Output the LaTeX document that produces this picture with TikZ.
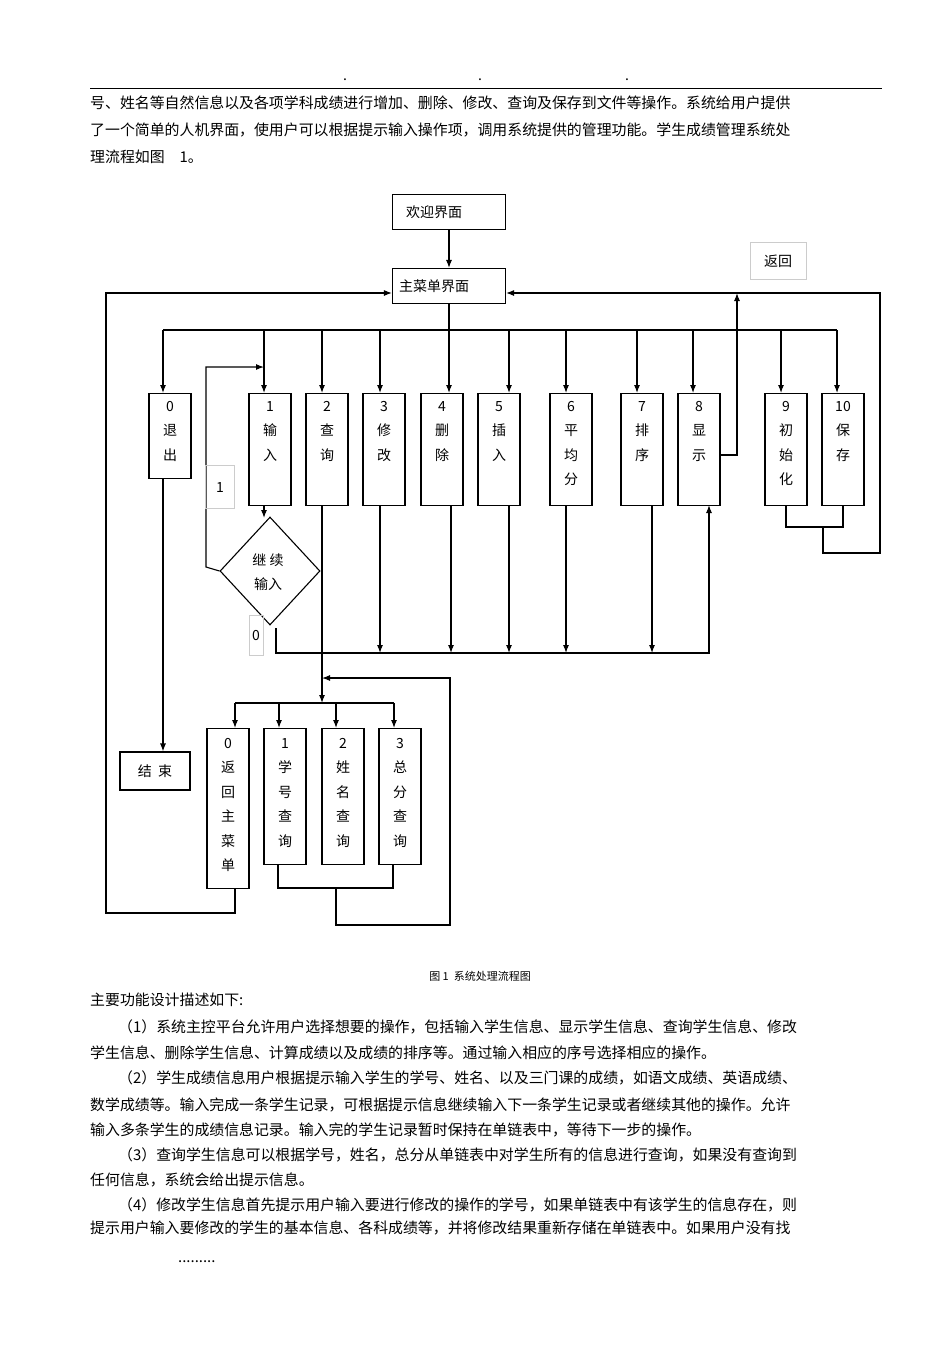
\documentclass[tikz,border=0pt]{standalone}
\usepackage{fontspec}
\setmainfont{Liberation Sans}
\newfontfamily\cjk{Noto Sans CJK SC}
\usetikzlibrary{arrows.meta,shapes.geometric}
\begin{document}
\begin{tikzpicture}[x=1pt,y=-1pt,
  every node/.style={font=\cjk\fontsize{14}{17}\selectfont, inner sep=0pt},
  box/.style={draw, line width=1.1pt, rectangle},
  vbox/.style={draw, line width=1.1pt, rectangle, minimum width=42pt, anchor=north},
  vtxt/.style={anchor=north, align=center, font=\cjk\fontsize{14}{24.5}\selectfont},
  lbl/.style={draw=gray!40, line width=0.5pt, rectangle},
  ln/.style={line width=1.1pt},
  ar/.style={line width=1.1pt, -{Latex[length=8pt,width=6pt]}},
  para/.style={anchor=west, font=\cjk\fontsize{14.9}{17}\selectfont}]
\useasboundingbox (0,0) rectangle (950,1345);
% header
\draw[line width=0.8pt] (90,88) -- (882,88);
\node at (345,80) {.}; \node at (480,80) {.}; \node at (627,80) {.};
\node[para] at (90,103) {号、姓名等自然信息以及各项学科成绩进行增加、删除、修改、查询及保存到文件等操作。系统给用户提供};
\node[para] at (90,130) {了一个简单的人机界面，使用户可以根据提示输入操作项，调用系统提供的管理功能。学生成绩管理系统处};
\node[para] at (90,157) {理流程如图\quad 1。};
% top boxes
\node[box, minimum width=113pt, minimum height=35pt] (welcome) at (449,212) {\hspace*{-30pt}欢迎界面};
\node[box, minimum width=113pt, minimum height=35pt] (main) at (449,286) {\hspace*{-30pt}主菜单界面};
\node[lbl, minimum width=56pt, minimum height=37pt] (fh) at (778,261) {返回};
\draw[ar] (welcome) -- (main);
% main options
\node[vbox, minimum height=85pt] (b0) at (170,393) {};
\node[vtxt] at ([yshift=-8pt]b0.north) {0\\退\\出};
\foreach \n/\x/\t/\h in {1/270/{1\\输\\入}/112, 2/327/{2\\查\\询}/112, 3/384/{3\\修\\改}/112, 4/442/{4\\删\\除}/112, 5/499/{5\\插\\入}/112, 6/571/{6\\平\\均\\分}/112, 7/642/{7\\排\\序}/112, 8/699/{8\\显\\示}/112, 9/786/{9\\初\\始\\化}/112, 10/843/{10\\保\\存}/112}{
  \node[vbox, minimum height=\h pt] (b\n) at (\x,393) {};
  \node[vtxt] at ([yshift=-8pt]b\n.north) {\t};
}
\coordinate (bus) at (449,330);
\draw[ln] (main.south) -- (bus);
\draw[ln] (163,330) -- (837,330);
\draw[ar] (bus) -- (449,393);
\foreach \x in {163,264,322,380,509,566,637,693,781,837}{\draw[ar] (\x,330) -- (\x,393);}
% return from 8
\draw[ar] (b8.east |- 0,455) -- (737,455) -- (737,293);
% 9,10 return
\draw[ln] (786,505) -- (786,527) -- (843,527) -- (843,505);
\draw[ar] (823,527) -- (823,553) -- (880,553) -- (880,293) -- (main.east |- 0,293);
% diamond
\node[diamond, draw, line width=1.1pt, minimum width=100pt, minimum height=108pt, aspect=0.93] (dia) at (270,571) {};
\node[align=center, font=\cjk\fontsize{14}{24}\selectfont] at (268,572) {继\ 续\\输入};
\draw[ar] (264,505) -- (264,518);
\draw[ar] (dia.west) -- (206,567) -- (206,367) -- (264,367);
\node[lbl, minimum width=29pt, minimum height=43pt] (l1) at (220,487) {1};
\node[lbl, minimum width=14pt, minimum height=40pt] (l0) at (256,635) {0};
% bottom bus
\draw[ar] (276,628) -- (276,653) -- (709,653) -- (709,505);
\foreach \x in {380,451,509,566,652}{\draw[ar] (\x,505) -- (\x,653);}
% exit
\node[box, minimum width=70pt, minimum height=38pt] (end) at (155,771) {结\ \ 束};
\draw[ar] (163,478) -- (end.north -| 163,0);
% query branch
\draw[ar] (322,505) -- (322,703);
\draw[ln] (235,703) -- (394,703);
\node[vbox, minimum height=160pt] (s0) at (228,728) {};
\node[vtxt] at ([yshift=-10pt]s0.north) {0\\返\\回\\主\\菜\\单};
\node[vbox, minimum height=136pt] (s1) at (285,728) {};
\node[vtxt] at ([yshift=-10pt]s1.north) {1\\学\\号\\查\\询};
\node[vbox, minimum height=136pt] (s2) at (343,728) {};
\node[vtxt] at ([yshift=-10pt]s2.north) {2\\姓\\名\\查\\询};
\node[vbox, minimum height=136pt] (s3) at (400,728) {};
\node[vtxt] at ([yshift=-10pt]s3.north) {3\\总\\分\\查\\询};
\foreach \x in {235,279,336,394}{\draw[ar] (\x,703) -- (\x,728);}
\draw[ln] (278,864) -- (278,888) -- (393,888) -- (393,864);
\draw[ar] (336,888) -- (336,925) -- (450,925) -- (450,678) -- (322,678);
\draw[ar] (235,888) -- (235,913) -- (106,913) -- (106,293) -- (main.west |- 0,293);
% caption and text
\node[font=\cjk\fontsize{11}{13}\selectfont] at (480,976) {图 1\ \ 系统处理流程图};
\node[para] at (90,1000) {主要功能设计描述如下:};
\node[para] at (118,1027) {（1）系统主控平台允许用户选择想要的操作，包括输入学生信息、显示学生信息、查询学生信息、修改};
\node[para] at (90,1053) {学生信息、删除学生信息、计算成绩以及成绩的排序等。通过输入相应的序号选择相应的操作。};
\node[para] at (118,1078) {（2）学生成绩信息用户根据提示输入学生的学号、姓名、以及三门课的成绩，如语文成绩、英语成绩、};
\node[para] at (90,1105) {数学成绩等。输入完成一条学生记录，可根据提示信息继续输入下一条学生记录或者继续其他的操作。允许};
\node[para] at (90,1130) {输入多条学生的成绩信息记录。输入完的学生记录暂时保持在单链表中，等待下一步的操作。};
\node[para] at (118,1155) {（3）查询学生信息可以根据学号，姓名，总分从单链表中对学生所有的信息进行查询，如果没有查询到};
\node[para] at (90,1180) {任何信息，系统会给出提示信息。};
\node[para] at (118,1205) {（4）修改学生信息首先提示用户输入要进行修改的操作的学号，如果单链表中有该学生的信息存在，则};
\node[para] at (90,1228) {提示用户输入要修改的学生的基本信息、各科成绩等，并将修改结果重新存储在单链表中。如果用户没有找};
\node[para] at (178,1262) {.........};
\end{tikzpicture}
\end{document}
